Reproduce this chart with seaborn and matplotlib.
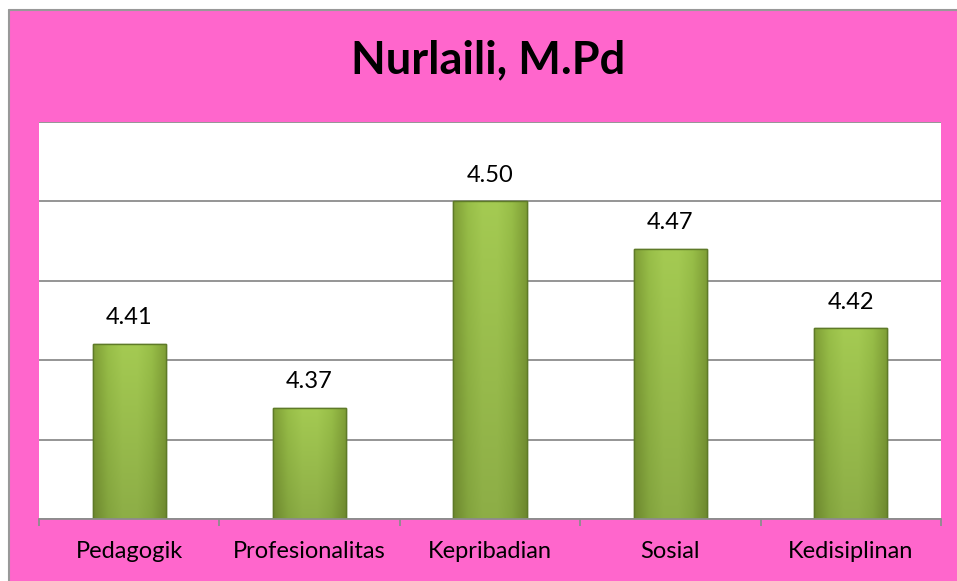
import matplotlib
matplotlib.use("Agg")
import matplotlib.pyplot as plt
import seaborn as sns
import numpy as np
import pandas as pd
from matplotlib.patches import Rectangle
from matplotlib.lines import Line2D
from matplotlib.colors import LinearSegmentedColormap

categories = ["Pedagogik", "Profesionalitas", "Kepribadian", "Sosial", "Kedisiplinan"]
values = [4.41, 4.37, 4.50, 4.47, 4.42]
value_labels = ["4.41", "4.37", "4.50", "4.47", "4.42"]
title = "Nurlaili, M.Pd"

sns.set_theme(style="white")
plt.rcParams['font.family'] = ['Lato', 'DejaVu Sans']

W, H = 957, 581
fig = plt.figure(figsize=(W / 100, H / 100), dpi=100)
fig.patch.set_facecolor("white")
pink = "#FF66CC"
bg = Rectangle((9 / W, -0.02), 1 - 9 / W + 0.02, 1.02 - 10 / H, transform=fig.transFigure,
               facecolor=pink, edgecolor="none", zorder=-10)
fig.patches.append(bg)
fig.lines.append(Line2D([9 / W, 9 / W], [0, 1 - 10 / H], transform=fig.transFigure,
                        color="#999999", linewidth=1.5))
fig.lines.append(Line2D([9 / W, 1], [1 - 10 / H, 1 - 10 / H], transform=fig.transFigure,
                        color="#999999", linewidth=1.5))

ax = fig.add_axes([39 / W, (H - 519) / H, (941 - 39) / W, (519 - 122) / H])
ax.set_facecolor("white")

YMIN, YMAX = 4.30, 4.55

df = pd.DataFrame({"cat": categories, "val": values})
sns.barplot(data=df, x="cat", y="val", ax=ax, color="#98BE45", width=0.405,
            edgecolor="#5E7A28", linewidth=1.0, saturation=1)

ax.set_ylim(YMIN, YMAX)
ax.set_xlim(-0.5, len(categories) - 0.5)
ax.set_yticks(np.arange(4.30, 4.551, 0.05))
ax.yaxis.grid(True, color="#8C8C8C", linewidth=1.3)
ax.set_axisbelow(True)
ax.tick_params(axis="y", left=False, labelleft=False)
for s in ["left", "right", "top"]:
    ax.spines[s].set_visible(False)
ax.spines["bottom"].set_color("#8C8C8C")
ax.spines["bottom"].set_linewidth(1.3)
ax.set_xlabel("")
ax.set_ylabel("")

ax.set_xticks(range(len(categories)))
ax.set_xticklabels(categories, fontsize=17, color="black")
ax.set_xticks(np.arange(-0.5, len(categories), 1.0), minor=True)
ax.tick_params(axis="x", which="major", length=0, pad=16)
ax.tick_params(axis="x", which="minor", length=5, width=1.3, color="#8C8C8C",
               direction="out", bottom=True)

# gradient overlay on bars (visible part only)
cmap = LinearSegmentedColormap.from_list(
    "g", ["#7F9E36", "#98BE48", "#A4CA52", "#A4CA52", "#98BE48", "#7F9E36"])
for p in list(ax.patches):
    x0, w = p.get_x(), p.get_width()
    top = p.get_y() + p.get_height()
    y0 = YMIN
    h = top - y0
    gx = np.linspace(0, 1, 64)[None, :]
    gy = np.linspace(0, 1, 64)[:, None]
    rgba = cmap(np.repeat(gx, 64, axis=0))
    shade = 0.86 + 0.14 * gy  # darker toward bottom
    rgba[..., :3] *= shade[..., None]
    clip = Rectangle((x0, y0), w, h, transform=ax.transData, fill=False, visible=False)
    ax.add_patch(clip)
    im = ax.imshow(rgba, extent=[x0, x0 + w, y0, top], origin="lower",
                   aspect="auto", zorder=p.get_zorder() + 0.1, interpolation="bilinear")
    im.set_clip_path(clip)
    edge = Rectangle((x0, y0), w, h, fill=False, edgecolor="#5E7A28", linewidth=1.0,
                     zorder=p.get_zorder() + 0.2)
    ax.add_patch(edge)
ax.set_xlim(-0.5, len(categories) - 0.5)
ax.set_ylim(YMIN, YMAX)

for i, (v, lab) in enumerate(zip(values, value_labels)):
    ax.annotate(lab, (i, v), xytext=(0, 19), textcoords="offset points",
                ha="center", va="center", fontsize=17, color="black")

fig.text(488 / W, 1 - 60 / H, title, ha="center", va="center", fontsize=32.5,
         fontweight="bold", color="black")

fig.savefig("out.png", dpi=100)
